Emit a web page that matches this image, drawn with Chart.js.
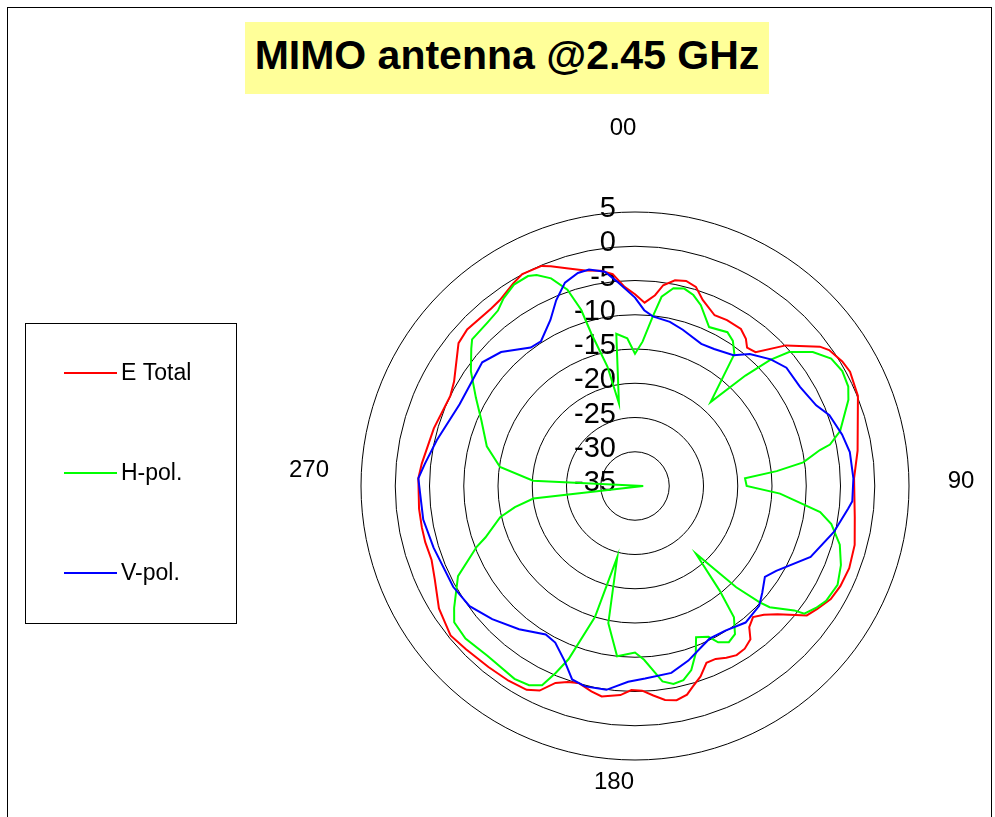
<!DOCTYPE html>
<html>
<head>
<meta charset="utf-8">
<title>MIMO antenna @2.45 GHz</title>
<script src="https://cdn.jsdelivr.net/npm/chart.js@4.4.1/dist/chart.umd.min.js"></script>
<style>
    html, body { margin: 0; padding: 0; background: #fff; overflow: hidden; }
    body { width: 995px; height: 817px; position: relative; font-family: "Liberation Sans", Arial, sans-serif; }
    #frame { position: absolute; left: 7px; top: 7px; width: 983px; height: 900px; border: 1px solid #000; }
    #title { position: absolute; left: 245px; top: 22px; width: 524px; height: 72px; background: #ffff99;
             font-weight: bold; font-size: 41px; line-height: 66px; text-align: center; color: #000; }
    #chart { position: absolute; left: 0; top: 0; }
</style>
</head>
<body>
<div id="frame"></div>
<div id="title">MIMO antenna @2.45 GHz</div>
<canvas id="chart" width="995" height="817"></canvas>
<script>
// angle in degrees (clockwise from top) and gain in dB
const eTotalAngles = [0,3,6,8,11,14,17,20,25,29,34,37,39,42,47,53,55,59,62,68,81,88,98,105,111,116,120,124,127,132,135,138,141,143,146,149,152,155,158,161,164,166,169,172,175,178,181,184,189,192,196,199,202,205,208,213,219,226,231,234,238,245,250,255,259,264,272,276,286,296,300,309,313,321,324,329,332,337,339,343,347,351,354,357];
const eTotalDb = [-7.0,-8.2,-7.0,-5.4,-4.4,-4.15,-4.6,-6.1,-7.5,-7.3,-7.35,-8.1,-9.0,-8.7,-4.9,-1.2,-0.4,0.3,0.55,0.1,-2.1,-3.0,-2.6,-1.8,-1.5,-1.65,-2.0,-2.9,-3.6,-7.0,-8.4,-9.25,-8.5,-7.0,-6.35,-6.2,-6.6,-7.15,-7.15,-5.6,-4.5,-3.6,-3.15,-3.45,-4.3,-5.1,-5.2,-4.4,-3.9,-4.35,-5.1,-4.75,-4.0,-2.05,-1.3,-1.1,-1.0,-0.7,-0.35,-0.8,-1.25,-2.75,-3.4,-3.3,-3.3,-3.3,-3.35,-3.7,-4.45,-5.0,-4.5,-1.85,-1.5,-1.65,-1.45,-0.5,0.05,-0.1,-0.65,-1.8,-2.7,-3.2,-3.9,-5.9];

const hPolAngles = [0,3,6,8,11,14,17,20,25,31,34,37,42,45,47,49,53,57,61,65,68,75,78,79,82,84,86,90,93,98,101,106,111,116,121,124,127,128,132,133,135,138,141,143,146,149,152,154,158,160,163,166,169,172,177,180,186,191,194,197,201,203,205,208,212,221,228,233,236,243,249,251,257,260,263,270,273,278,285,293,299,305,310,312,318,322,325,329,333,335,338,341,343,344,347,349,353,357];
const hPolDb = [-15.7,-13.9,-10.1,-7.1,-5.6,-5.3,-5.85,-6.9,-9.4,-8.8,-9.45,-10.9,-18.5,-12.2,-8.0,-5.2,-2.5,-0.85,-0.4,-0.65,-1.4,-4.0,-5.9,-7.5,-10.2,-14.2,-18.9,-18.7,-13.8,-7.7,-5.8,-3.9,-2.8,-2.1,-2.45,-3.15,-4.05,-5.5,-8.55,-10.1,-14.1,-21.7,-15.4,-11.0,-8.9,-8.4,-9.15,-10.5,-11.2,-9.05,-6.9,-5.8,-5.55,-6.2,-9.6,-10.7,-10.0,-14.6,-24.3,-15.0,-7.9,-5.35,-2.9,-2.05,-1.8,-2.15,-1.7,-1.95,-3.15,-6.0,-10.25,-11.9,-14.8,-17.2,-20.05,-36.2,-20.1,-15.1,-12.6,-10.65,-8.45,-5.75,-3.8,-3.0,-2.85,-2.5,-1.55,-0.7,-0.6,-1.0,-2.3,-4.7,-8.1,-11.8,-17.1,-22.7,-12.6,-13.4];

const vPolAngles = [0,3,6,12,17,25,30,37,41,47,52,59,66,70,76,81,88,94,96,103,112,121,125,130,134,141,148,154,158,163,169,177,182,188,194,198,202,207,211,219,227,234,241,253,261,272,276,283,295,309,315,323,327,333,337,341,345,348,352,355];
const vPolDb = [-7.5,-9.3,-10.1,-10.5,-11.15,-12.1,-11.9,-11.1,-9.45,-7.9,-6.95,-6.9,-6.05,-4.8,-3.85,-3.25,-3.1,-3.2,-3.7,-5.2,-7.35,-10.95,-11.85,-10.75,-9.8,-9.35,-10.1,-10.2,-9.5,-8.35,-7.2,-6.85,-6.4,-4.95,-4.85,-5.3,-7.5,-9.35,-9.7,-8.1,-6.5,-5.15,-4.65,-4.25,-3.7,-3.35,-4.15,-5.3,-6.75,-6.3,-7.35,-9.7,-9.8,-7.8,-5.55,-3.6,-2.8,-2.7,-3.4,-5.05];

const ringValues = [5, 0, -5, -10, -15, -20, -25, -30, -35];
const angleLabels = ['00', '90', '180', '270'];

// one radar category per degree, the series fill only the degrees they were read at
const degrees = Array.from({length: 360}, (_, i) => i);

function onDegrees(angles, values) {
    const out = degrees.map(() => null);
    angles.forEach((a, i) => { out[a % 360] = values[i]; });
    return out;
}

// ring values and the 0/90/180/270 captions
const polarText = {
    id: 'polarText',
    beforeDatasetsDraw(chart) {
        const ctx = chart.ctx;
        const r = chart.scales.r;
        const R = r.drawingArea;
        ctx.save();
        ctx.fillStyle = '#000';
        ctx.textBaseline = 'middle';

        ctx.font = '29px "Liberation Sans", Arial, sans-serif';
        ctx.textAlign = 'right';
        ringValues.forEach(v => {
            const d = r.getDistanceFromCenterForValue(v);
            ctx.fillText(String(v), r.xCenter - 19, r.yCenter - d - 3);
        });

        ctx.font = '24px "Liberation Sans", Arial, sans-serif';
        ctx.textAlign = 'center';
        const offsets = [[-12, -(R + 84)], [R + 52, -5], [-21, R + 22], [-(R + 52), -16]];
        angleLabels.forEach((txt, i) => {
            ctx.fillText(txt, r.xCenter + offsets[i][0], r.yCenter + offsets[i][1]);
        });
        ctx.restore();
    }
};

// boxed legend on the left
const boxLegend = {
    id: 'boxLegend',
    afterDraw(chart) {
        const ctx = chart.ctx;
        ctx.save();
        ctx.strokeStyle = '#000';
        ctx.lineWidth = 1;
        ctx.strokeRect(25.5, 323.5, 211, 300);
        ctx.font = '23px "Liberation Sans", Arial, sans-serif';
        ctx.textAlign = 'left';
        ctx.textBaseline = 'middle';
        ctx.fillStyle = '#000';
        chart.data.datasets.forEach((ds, i) => {
            const y = 373 + i * 100;
            ctx.strokeStyle = ds.borderColor;
            ctx.lineWidth = 2;
            ctx.beginPath();
            ctx.moveTo(64, y);
            ctx.lineTo(117, y);
            ctx.stroke();
            ctx.fillText(ds.label, 121, y + 1);
        });
        ctx.restore();
    }
};

const ctx = document.getElementById('chart').getContext('2d');
new Chart(ctx, {
    type: 'radar',
    data: {
        labels: degrees,
        datasets: [
            {label: 'E Total', data: onDegrees(eTotalAngles, eTotalDb), borderColor: '#ff0000', order: 3},
            {label: 'H-pol.', data: onDegrees(hPolAngles, hPolDb), borderColor: '#00ff00', order: 2},
            {label: 'V-pol.', data: onDegrees(vPolAngles, vPolDb), borderColor: '#0000ff', order: 1}
        ]
    },
    options: {
        responsive: false,
        animation: false,
        events: [],
        layout: {padding: {left: 361, top: 212, right: 86, bottom: 57}},
        elements: {
            line: {borderWidth: 2, tension: 0, fill: false, spanGaps: true},
            point: {radius: 0, hoverRadius: 0}
        },
        spanGaps: true,
        scales: {
            r: {
                min: -35,
                max: 5,
                startAngle: 0,
                ticks: {display: false, stepSize: 5},
                grid: {circular: true, color: '#000', lineWidth: 1},
                angleLines: {display: false},
                pointLabels: {display: false}
            }
        },
        plugins: {
            legend: {display: false},
            tooltip: {enabled: false},
            title: {display: false}
        }
    },
    plugins: [polarText, boxLegend]
});
</script>
</body>
</html>
